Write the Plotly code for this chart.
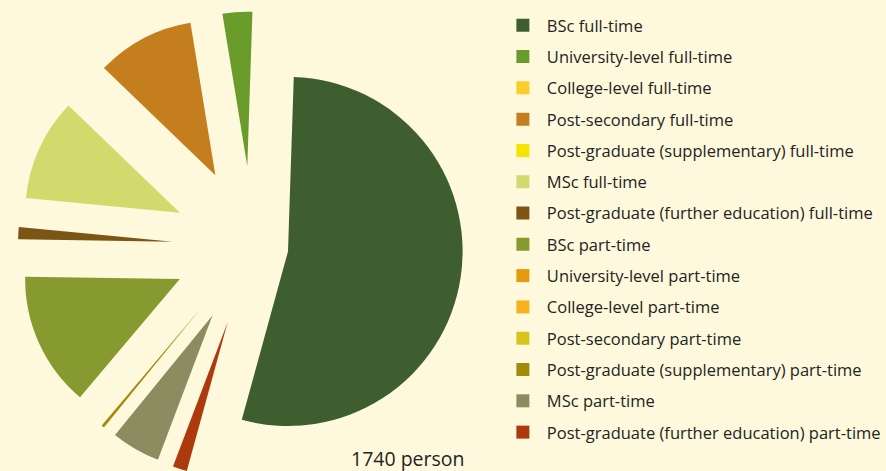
import plotly.graph_objects as go

labels = [
    "BSc full-time",
    "University-level full-time",
    "College-level full-time",
    "Post-secondary full-time",
    "Post-graduate (supplementary) full-time",
    "MSc full-time",
    "Post-graduate (further education) full-time",
    "BSc part-time",
    "University-level part-time",
    "College-level part-time",
    "Post-secondary part-time",
    "Post-graduate (supplementary) part-time",
    "MSc part-time",
    "Post-graduate (further education) part-time",
]
values = [935, 54, 0, 178, 0, 186, 22, 245, 0, 0, 0, 5, 89, 26]
colors = [
    "#3f5e2f", "#6a9c2b", "#fccd2a", "#c57e1e", "#f7e300", "#d3d96d",
    "#7c5413", "#879a2f", "#e39a0c", "#f6b11f", "#d8c41c", "#a28b0b",
    "#8b8d61", "#ad3a0c",
]
total_label = "1740 person"

W, H = 886, 482          # page is 471 tall; the pulled slices run past its bottom edge
BG = "#fef9dc"
TXT = "#232323"
TRANSP = "rgba(0,0,0,0)"
FONT = "Open Sans"

# pie geometry (pixels)
cx, cy = 253, 246
r_small, pull_small = 155, 0.516
r_big, pull_big = 175, 0.206


def dom(h):
    x0 = max(0.0, (cx - h) / W)
    x1 = min(1.0, (cx + h) / W)
    y0 = max(0.0, 1 - (cy + h) / H)
    y1 = min(1.0, 1 - (cy - h) / H)
    return dict(x=[x0, x1], y=[y0, y1])


big_idx = 0
fig = go.Figure()

# large first slice
fig.add_trace(go.Pie(
    labels=labels, values=values, sort=False, direction="counterclockwise",
    rotation=1.9, textinfo="none", hoverinfo="label+value",
    marker=dict(colors=[c if i == big_idx else TRANSP for i, c in enumerate(colors)],
                line=dict(width=0)),
    pull=[pull_big if i == big_idx else 0 for i in range(len(values))],
    domain=dom(r_big * (1 + pull_big)), showlegend=False,
))
# remaining slices, smaller radius and pulled further
fig.add_trace(go.Pie(
    labels=labels, values=values, sort=False, direction="counterclockwise",
    rotation=1.9, textinfo="none", hoverinfo="label+value",
    marker=dict(colors=[TRANSP if i == big_idx else c for i, c in enumerate(colors)],
                line=dict(width=0)),
    pull=[0 if i == big_idx else pull_small for i in range(len(values))],
    domain=dom(r_small * (1 + pull_small)), showlegend=False,
))

# legend entries
for lab, col in zip(labels, colors):
    fig.add_trace(go.Scatter(
        x=[None], y=[None], mode="markers", name=lab, legendgroup=lab,
        marker=dict(symbol="square", size=13, color=col, line=dict(width=0)),
        hoverinfo="skip",
    ))

fig.add_annotation(
    text=total_label, x=409 / W, y=1 - 458 / H, xref="paper", yref="paper",
    xanchor="center", yanchor="middle", showarrow=False,
    font=dict(size=19.5, color=TXT, family=FONT),
)

fig.update_layout(
    width=W, height=H,
    margin=dict(l=0, r=0, t=0, b=0),
    paper_bgcolor=BG, plot_bgcolor=BG,
    xaxis=dict(visible=False, domain=[0.6, 1]),
    yaxis=dict(visible=False),
    legend=dict(
        x=500 / W, xanchor="left", y=1 - 8 / H, yanchor="top",
        font=dict(size=16.5, color=TXT, family=FONT),
        tracegroupgap=6.85, itemwidth=38, bgcolor="rgba(0,0,0,0)",
        itemclick=False, itemdoubleclick=False,
    ),
    font=dict(family=FONT, color=TXT),
)

fig.write_html(
    "out.html",
    config={"displayModeBar": False},
    post_script=(
        "document.documentElement.style.margin='0';"
        "document.body.style.margin='0';"
        "document.documentElement.style.overflow='hidden';"
        "document.body.style.overflow='hidden';"
        "document.body.style.background='" + BG + "';"
    ),
)
